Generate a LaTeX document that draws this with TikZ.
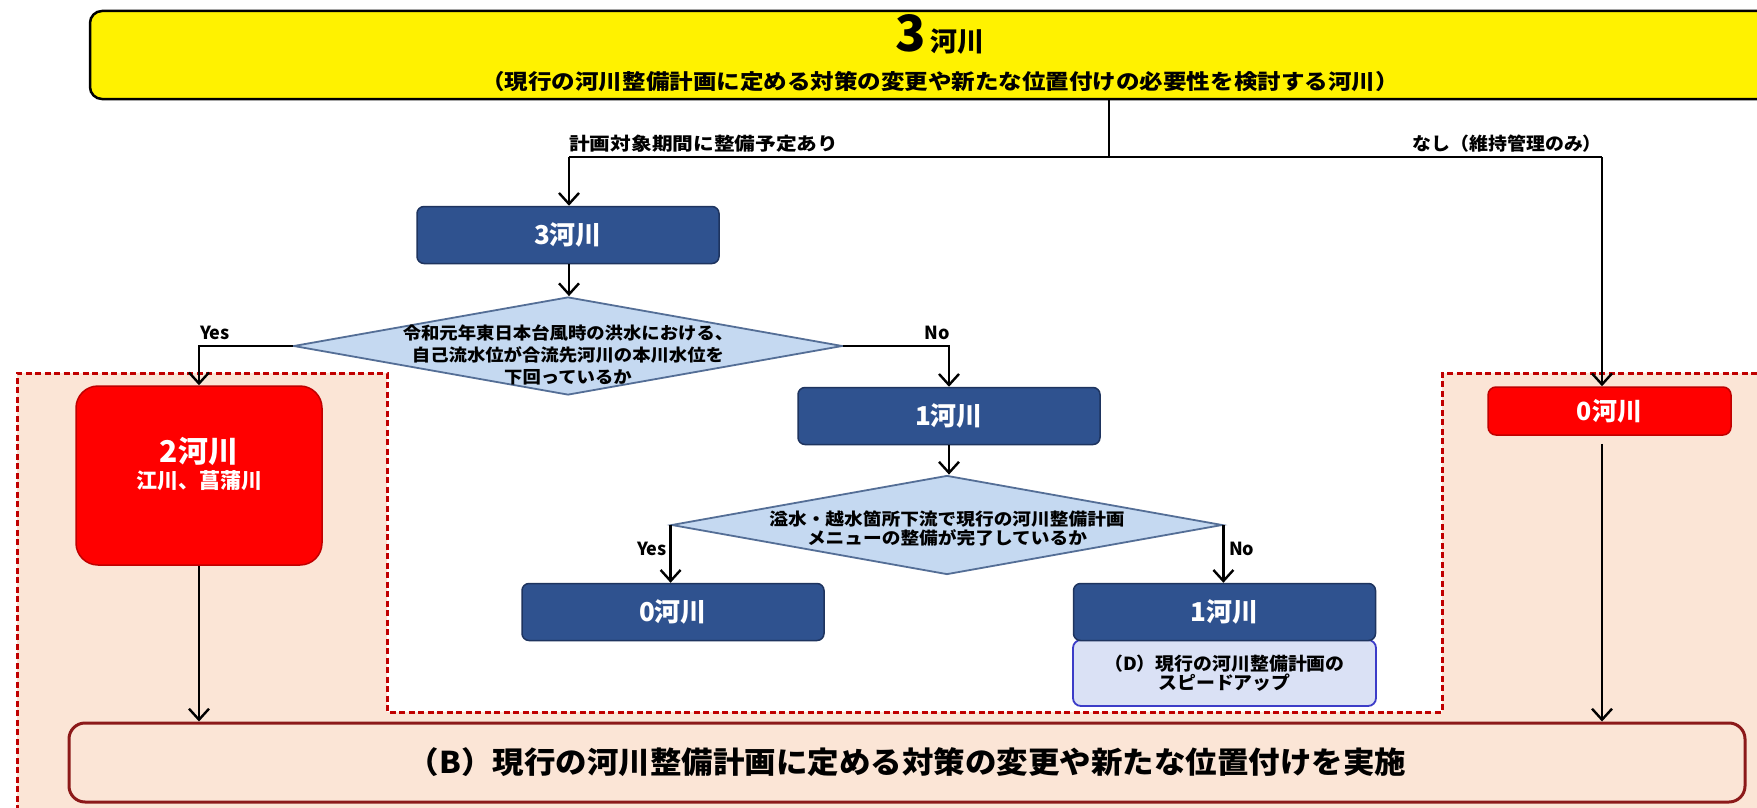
\documentclass[tikz,border=0pt]{standalone}
\usepackage{fontspec}
\setmainfont{Noto Sans CJK JP}
\usetikzlibrary{shapes.geometric,arrows.meta}
\definecolor{peach}{RGB}{251,229,214}
\definecolor{dred}{RGB}{192,0,0}
\definecolor{bfill}{RGB}{47,82,143}
\definecolor{bline}{RGB}{30,52,95}
\definecolor{dfill}{RGB}{197,217,241}
\definecolor{dline}{RGB}{84,110,150}
\definecolor{Dfill}{RGB}{218,225,245}
\definecolor{Dline}{RGB}{60,60,200}
\definecolor{Bline}{RGB}{140,25,25}
\newcommand{\fsz}[1]{\fontsize{#1}{#1}\selectfont}
\newcommand{\sx}[2]{\scalebox{#1}[1]{#2}}
\begin{document}
\begin{tikzpicture}[x=1pt,y=-1pt,
  arr/.style={line width=2.4pt,-{Straight Barb[length=11pt,width=20pt,line width=2.4pt]}},
  ln/.style={line width=2.4pt},
  bluebox/.style={rectangle,rounded corners=7pt,fill=bfill,draw=bline,line width=1.5pt,text=white,font=\bfseries\fsz{26},minimum width=302pt,minimum height=57pt,inner sep=0pt},
  redbox/.style={rectangle,fill=red,draw=dred,line width=1.5pt,text=white,font=\bfseries,inner sep=0pt},
  dia/.style={diamond,fill=dfill,draw=dline,line width=1.8pt,inner sep=0pt},
  lbl/.style={inner sep=0pt,font=\bfseries\fsz{18}},
  txt/.style={inner sep=0pt,align=center}
]
\useasboundingbox (0,0) rectangle (1757,808);
\fill[white] (0,0) rectangle (1757,808);
% shaded region
\fill[peach] (17,373) -- (387,373) -- (387,712) -- (1442,712) -- (1442,373) -- (1790,373) -- (1790,830) -- (17,830) -- cycle;
\draw[dred,line width=3pt,dash pattern=on 6pt off 3.5pt] (17,830) -- (17,373) -- (387,373) -- (387,712) -- (1442,712) -- (1442,373) -- (1790,373);

% top box
\node[rectangle,rounded corners=12pt,fill=yellow,draw=black,line width=2.5pt,minimum width=1700pt,minimum height=88pt,inner sep=0pt] (top) at (940,55) {};
\node[txt] (toptitle) at (940,34) {{\bfseries\fsz{50}3}{\bfseries\fsz{27}\,河川}};
\node[txt,font=\bfseries\fsz{21}] (topsub) at (940,82) {\sx{1.12}{（現行の河川整備計画に定める対策の変更や新たな位置付けの必要性を検討する河川）}};

% junction
\coordinate (j) at (1109,157);
\coordinate (jl) at (569,157);
\coordinate (jr) at (1602,157);
\draw[ln] (top.south -| j) -- (j);
\draw[ln] (jl) -- (jr);
\node[lbl,anchor=south west] (lplan) at (569,153) {\sx{1.15}{計画対象期間に整備予定あり}};
\node[lbl,anchor=south east] (lnone) at (1602,153) {\sx{1.05}{なし（維持管理のみ）}};

% left branch
\node[bluebox] (b3) at (568,235) {3河川};
\node[dia,minimum width=549pt,minimum height=98pt] (d1) at (568,346) {};
\node[txt,font=\bfseries\fontsize{17}{22}\selectfont] (d1t) at (568,355) {\sx{1.08}{令和元年東日本台風時の洪水における、}\\\sx{1.08}{自己流水位が合流先河川の本川水位を}\\\sx{1.08}{下回っているか}};

\node[rectangle,rounded corners=22pt,fill=red,draw=dred,line width=1.5pt,minimum width=246pt,minimum height=179pt,inner sep=0pt] (r2) at (199,475.5) {};
\node[txt,text=white,font=\bfseries] (r2t) at (199,464) {{\fsz{30}2河川}\\[4pt]{\fsz{21}江川、菖蒲川}};

\node[bluebox] (b1) at (949,416) {1河川};
\node[dia,minimum width=551pt,minimum height=99pt] (d2) at (947,525) {};
\node[txt,font=\bfseries\fsz{17}] (d2t) at (947,528) {\sx{1.1}{溢水・越水箇所下流で現行の河川整備計画}\\[2pt]\sx{1.1}{メニューの整備が完了しているか}};

\node[bluebox] (b0) at (673,612) {0河川};
\node[rectangle,rounded corners=8pt,fill=Dfill,draw=Dline,line width=1.8pt,minimum width=303pt,minimum height=66pt,inner sep=0pt] (dD) at (1224.5,673) {};
\node[txt,font=\bfseries\fsz{18}] (dDt) at (1224.5,673) {\sx{1.05}{（D）現行の河川整備計画の}\\[1pt]\sx{1.05}{スピードアップ}};
\node[bluebox] (b1b) at (1224.5,612) {1河川};

% right branch
\node[redbox,rounded corners=8pt,minimum width=243pt,minimum height=48pt,font=\bfseries\fsz{25}] (r0) at (1609.5,411) {0河川};

% bottom box
\node[rectangle,rounded corners=16pt,fill=peach,draw=Bline,line width=3pt,minimum width=1676pt,minimum height=79pt,inner sep=0pt,font=\bfseries\fsz{30}] (B) at (907,762.5) {\sx{1.05}{（B）現行の河川整備計画に定める対策の変更や新たな位置付けを実施}};

% connectors
\draw[arr] (jl) -- (b3.north -| jl);
\draw[arr] (b3.south -| jl) -- (d1.north -| jl);
\draw[arr] (d1.west) -| (r2.north);
\node[lbl] (yes1) at (215,333) {Yes};
\draw[arr] (d1.east) -| (b1.north);
\node[lbl] (no1) at (937,333) {No};
\draw[arr] (b1.south) -- (d2.north -| b1.south);
\draw[arr] (d2.west) -- (d2.west |- b0.north);
\node[lbl,anchor=east] (yes2) at (667,549) {Yes};
\draw[arr] (d2.east) -- (d2.east |- b1b.north);
\node[lbl,anchor=west] (no2) at (1229,549) {No};
\draw[arr] (jr) -- (jr |- r0.north);
\draw[arr] (r2.south) -- (r2.south |- B.north);
\draw[arr,shorten <=8pt] (jr |- r0.south) -- (jr |- B.north);
\end{tikzpicture}
\end{document}
